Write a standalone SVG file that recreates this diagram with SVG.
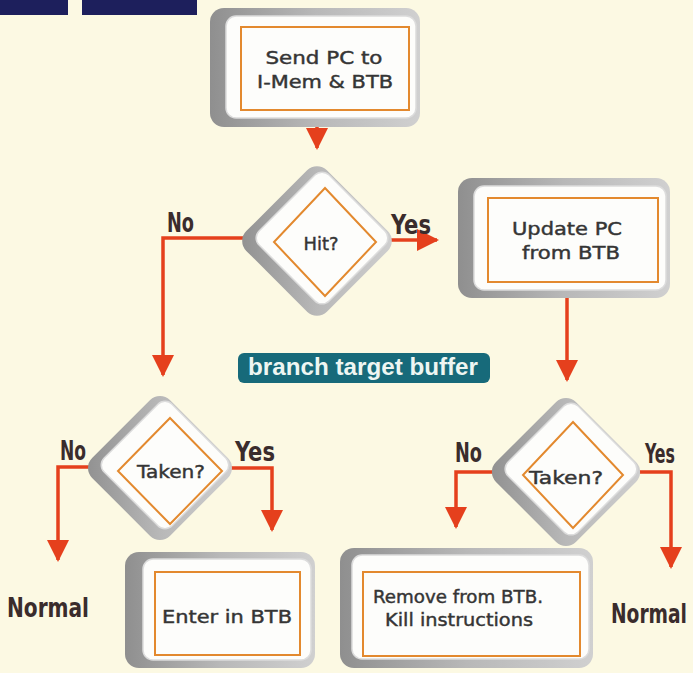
<svg xmlns="http://www.w3.org/2000/svg" width="693" height="673" viewBox="0 0 693 673">
<defs>
<style>
.bg{fill:#fcf9e3}
.frame{fill:url(#gray)}
.face{fill:#fdfdfb;stroke:#dcdcdc;stroke-width:1.5}
.edge{fill:none;stroke:#e3892e;stroke-width:2}
.txt{font-family:"DejaVu Sans","Liberation Sans",sans-serif;font-size:18.5px;fill:#353535;stroke:#353535;stroke-width:0.45;text-anchor:middle}
.lbl{font-family:"DejaVu Sans Condensed","DejaVu Sans",sans-serif;font-stretch:condensed;font-weight:bold;font-size:26px;fill:#3a2c2c}
.conn{fill:none;stroke:#e5401d;stroke-width:3.5;stroke-linejoin:miter}
.tag{fill:#176a7a}
.tagtxt{font-family:"Liberation Sans",Arial,sans-serif;font-weight:bold;font-size:23px;fill:#eef6f2}
</style>
<linearGradient id="gray" x1="0" y1="1" x2="1" y2="0">
<stop offset="0" stop-color="#8f8f8f"/>
<stop offset="0.5" stop-color="#b8b8b8"/>
<stop offset="1" stop-color="#d0d0d0"/>
</linearGradient>
<linearGradient id="grayr" x1="0" y1="0.5" x2="1" y2="0.5">
<stop offset="0" stop-color="#8f8f8f"/>
<stop offset="0.5" stop-color="#b8b8b8"/>
<stop offset="1" stop-color="#d0d0d0"/>
</linearGradient>
<marker id="arr" markerUnits="userSpaceOnUse" markerWidth="22" markerHeight="22" viewBox="0 0 22 22" refX="20" refY="11" orient="auto">
<path d="M0,0 L22,11 L0,22 z" fill="#e5401d"/>
</marker>
</defs>
<rect class="bg" x="0" y="0" width="693" height="673"/>
<g id="header">
<rect x="0" y="0" width="68" height="15" fill="#1d1f5c"/>
<rect x="82" y="0" width="115" height="15" fill="#1d1f5c"/>
</g>

<g id="connectors">
<path class="conn" d="M317,127 V148" marker-end="url(#arr)"/>
<path class="conn" d="M245,238 H163 V375" marker-end="url(#arr)"/>
<path class="conn" d="M390,240 H437" marker-end="url(#arr)"/>
<path class="conn" d="M567,298 V380" marker-end="url(#arr)"/>
<path class="conn" d="M90,467 H58 V560" marker-end="url(#arr)"/>
<path class="conn" d="M231,468 H272 V530" marker-end="url(#arr)"/>
<path class="conn" d="M494,472 H456 V527" marker-end="url(#arr)"/>
<path class="conn" d="M638,472 H671 V567" marker-end="url(#arr)"/>
</g>

<g id="send-pc">
<rect class="frame" x="210" y="8" width="210" height="119" rx="14" style="fill:url(#grayr)"/>
<rect class="face" x="226" y="16" width="190" height="102" rx="10"/>
<rect class="edge" x="241" y="27" width="168" height="83"/>
<text class="txt" x="324" y="64" textLength="117" lengthAdjust="spacingAndGlyphs">Send PC to</text>
<text class="txt" x="325" y="88" textLength="136" lengthAdjust="spacingAndGlyphs">I-Mem &amp; BTB</text>
</g>

<g id="hit">
<rect class="frame" x="-57" y="-57" width="114" height="114" rx="14" transform="translate(317,241) rotate(45)"/>
<rect class="face" x="-49.5" y="-49.5" width="99" height="99" rx="10" transform="translate(322,238) rotate(45)"/>
<polygon class="edge" points="325,188 376,242 325,296 274,242"/>
<text class="txt" x="321" y="250" textLength="35" lengthAdjust="spacingAndGlyphs">Hit?</text>
</g>

<g id="update-pc">
<rect class="frame" x="458" y="178" width="212" height="120" rx="14" style="fill:url(#grayr)"/>
<rect class="face" x="474" y="186" width="192" height="104" rx="10"/>
<rect class="edge" x="488" y="198" width="170" height="84"/>
<text class="txt" x="567" y="235" textLength="110" lengthAdjust="spacingAndGlyphs">Update PC</text>
<text class="txt" x="571" y="259" textLength="98" lengthAdjust="spacingAndGlyphs">from BTB</text>
</g>

<g id="btb-tag">
<rect class="tag" x="238" y="353" width="252" height="30" rx="6"/>
<text class="tagtxt" x="248" y="375" textLength="230" lengthAdjust="spacingAndGlyphs">branch target buffer</text>
</g>

<g id="taken-left">
<rect class="frame" x="-55" y="-55" width="110" height="110" rx="14" transform="translate(160,468) rotate(45)"/>
<rect class="face" x="-48" y="-48" width="96" height="96" rx="10" transform="translate(165,465) rotate(45)"/>
<polygon class="edge" points="170,418 222,471 170,524 118,471"/>
<text class="txt" x="171" y="478" textLength="68" lengthAdjust="spacingAndGlyphs">Taken?</text>
</g>

<g id="taken-right">
<rect class="frame" x="-56.5" y="-56.5" width="113" height="113" rx="14" transform="translate(566,472) rotate(45)"/>
<rect class="face" x="-49.5" y="-49.5" width="99" height="99" rx="10" transform="translate(571,469) rotate(45)"/>
<polygon class="edge" points="573,422 623,475 573,528 523,475"/>
<text class="txt" x="566" y="484" textLength="74" lengthAdjust="spacingAndGlyphs">Taken?</text>
</g>

<g id="enter-btb">
<rect class="frame" x="125" y="552" width="190" height="116" rx="14" style="fill:url(#grayr)"/>
<rect class="face" x="143" y="559" width="168" height="101" rx="10"/>
<rect class="edge" x="155" y="572" width="145" height="83"/>
<text class="txt" x="227" y="623" textLength="130" lengthAdjust="spacingAndGlyphs">Enter in BTB</text>
</g>

<g id="remove-btb">
<rect class="frame" x="340" y="548" width="253" height="120" rx="14" style="fill:url(#grayr)"/>
<rect class="face" x="352" y="555" width="237" height="104" rx="10"/>
<rect class="edge" x="363" y="572" width="217" height="84"/>
<text class="txt" x="458" y="603" textLength="170" lengthAdjust="spacingAndGlyphs">Remove from BTB.</text>
<text class="txt" x="459" y="626" textLength="148" lengthAdjust="spacingAndGlyphs">Kill instructions</text>
</g>

<g id="labels">
<text class="lbl" x="167" y="232" textLength="27" lengthAdjust="spacingAndGlyphs">No</text>
<text class="lbl" x="391" y="234" textLength="40" lengthAdjust="spacingAndGlyphs">Yes</text>
<text class="lbl" x="60" y="460" textLength="26" lengthAdjust="spacingAndGlyphs">No</text>
<text class="lbl" x="235" y="461" textLength="40" lengthAdjust="spacingAndGlyphs">Yes</text>
<text class="lbl" x="455" y="462" textLength="27" lengthAdjust="spacingAndGlyphs">No</text>
<text class="lbl" x="645" y="463" textLength="30" lengthAdjust="spacingAndGlyphs">Yes</text>
<text class="lbl" x="0" y="0" style="font-size:21px" transform="translate(611,623) scale(1,1.24)" textLength="76" lengthAdjust="spacingAndGlyphs">Normal</text>
<text class="lbl" x="7" y="617" textLength="82" lengthAdjust="spacingAndGlyphs">Normal</text>
</g>
</svg>
